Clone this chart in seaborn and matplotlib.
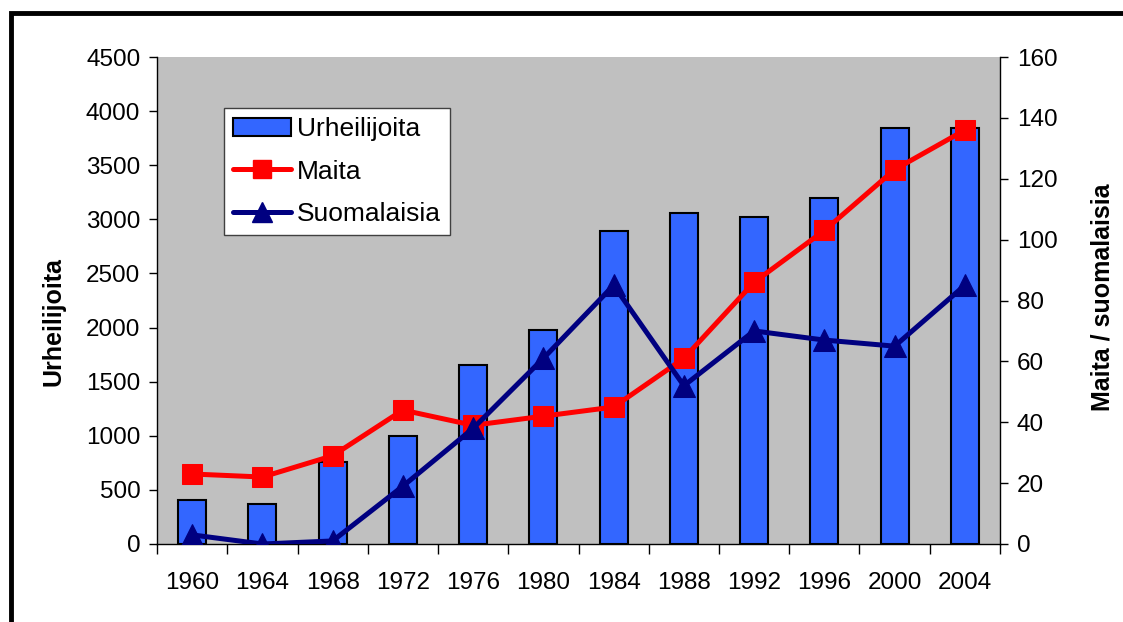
import numpy as np
import pandas as pd
from matplotlib import pyplot as plt
from matplotlib.patches import Rectangle, Patch
from matplotlib.lines import Line2D
import seaborn as sns

# Paralympialaiset 1960-2004
vuodet = ["1960", "1964", "1968", "1972", "1976", "1980",
          "1984", "1988", "1992", "1996", "2000", "2004"]
urheilijoita = [405, 372, 755, 995, 1655, 1975, 2890, 3060, 3025, 3195, 3840, 3840]
maita = [23, 22, 29, 44, 39, 42, 45, 61, 86, 103, 123, 136]
suomalaisia = [3, 0, 1, 19, 38, 61, 85, 52, 70, 67, 65, 85]

sns.set_theme(style="ticks")
plt.rcParams['font.family'] = ['Liberation Sans', 'DejaVu Sans']
plt.rcParams['text.color'] = 'black'
plt.rcParams['axes.labelcolor'] = 'black'
plt.rcParams['xtick.color'] = 'black'
plt.rcParams['ytick.color'] = 'black'

blue = "#3366FF"
red = "#FF0000"
navy = "#000080"
fs = 17.5

df = pd.DataFrame({"Vuosi": vuodet, "Urheilijoita": urheilijoita})
pos = np.arange(len(vuodet))

fig = plt.figure(figsize=(11.23, 6.22), dpi=100)
ax = fig.add_axes([157 / 1123, 1 - 544 / 622, 843 / 1123, 487 / 622])
ax.set_facecolor("#C0C0C0")

sns.barplot(data=df, x="Vuosi", y="Urheilijoita", color=blue, saturation=1,
            edgecolor="black", linewidth=1.5, width=0.4, ax=ax)
ax.set_ylim(0, 4500)
ax.set_yticks(np.arange(0, 4501, 500))
ax.set_xlim(-0.5, len(vuodet) - 0.5)
ax.set_xlabel("")
ax.set_ylabel("Urheilijoita", fontsize=18, fontweight="bold", labelpad=15, y=0.456)
ax.tick_params(axis="y", labelsize=fs, length=6, width=1, direction="out", pad=6)
ax.tick_params(axis="x", which="major", labelsize=fs, length=0, pad=20)
ax.set_xticks(np.arange(-0.5, len(vuodet)), minor=True)
ax.tick_params(axis="x", which="minor", length=7, width=1, direction="out")
for s in ["top", "right"]:
    ax.spines[s].set_visible(False)
for s in ["left", "bottom"]:
    ax.spines[s].set_color("black")
    ax.spines[s].set_linewidth(1)

ax2 = ax.twinx()
sns.lineplot(x=pos, y=maita, ax=ax2, color=red, marker="s", markersize=15,
             markeredgecolor=red, linewidth=3.6)
sns.lineplot(x=pos, y=suomalaisia, ax=ax2, color=navy, marker="^", markersize=16,
             markeredgecolor=navy, linewidth=3.6)
ax2.set_ylim(0, 160)
ax2.set_yticks(np.arange(0, 161, 20))
ax2.set_xlim(-0.5, len(vuodet) - 0.5)
ax2.set_ylabel("Maita / suomalaisia", fontsize=18, fontweight="bold", labelpad=24, y=0.506)
ax2.tick_params(axis="y", labelsize=fs, length=6, width=1, direction="out", pad=6)
for s in ["top", "left", "bottom"]:
    ax2.spines[s].set_visible(False)
ax2.spines["right"].set_color("black")
ax2.spines["right"].set_linewidth(1)

handles = [
    Patch(facecolor=blue, edgecolor="black", linewidth=1.5),
    Line2D([], [], color=red, marker="s", markersize=12.5, linewidth=3.6),
    Line2D([], [], color=navy, marker="^", markersize=14, linewidth=3.6),
]
leg = ax2.legend(handles, ["Urheilijoita", "Maita", "Suomalaisia"],
                 loc="upper left", bbox_to_anchor=(224 / 1123, 1 - 108 / 622),
                 bbox_transform=fig.transFigure, borderaxespad=0, fontsize=19,
                 frameon=True, fancybox=False, framealpha=1, edgecolor="#404040",
                 handlelength=2.2, handletextpad=0.2, labelspacing=0.7,
                 borderpad=0.35)
leg.get_frame().set_linewidth(1)

# chart border
fig.patches.append(Rectangle((10.5 / 1123, -0.1), 1.2, 1.1 - 12.5 / 622,
                             transform=fig.transFigure, fill=False,
                             linewidth=3.5, edgecolor="black"))

fig.savefig("out.png", dpi=100)
